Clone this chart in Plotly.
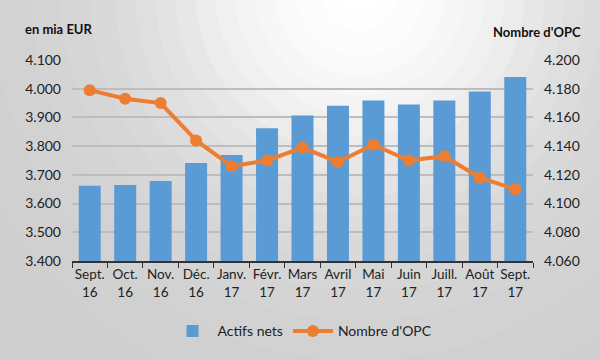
import plotly.graph_objects as go

categories = ["Sept.<br>16", "Oct.<br>16", "Nov.<br>16", "Déc.<br>16", "Janv.<br>17", "Févr.<br>17",
              "Mars<br>17", "Avril<br>17", "Mai<br>17", "Juin<br>17", "Juill.<br>17", "Août<br>17", "Sept.<br>17"]
actifs_nets = [3662, 3665, 3679, 3741, 3769, 3862, 3907, 3941, 3959, 3945, 3959, 3990, 4041]
nombre_opc = [4179, 4173, 4170, 4144, 4126, 4130, 4139, 4129, 4141, 4130, 4133, 4118, 4110]

left_ticks = [3400, 3500, 3600, 3700, 3800, 3900, 4000, 4100]
right_ticks = [4060, 4080, 4100, 4120, 4140, 4160, 4180, 4200]

FONT = "Lato, 'Open Sans', sans-serif"

# background radial gradient (decoration): (radius px, gray level)
grad_steps = [(640, 205), (560, 206), (480, 207), (420, 208), (370, 210), (330, 212), (300, 214),
              (270, 217), (245, 220), (225, 223), (205, 227), (185, 231), (165, 236), (145, 240),
              (125, 244), (105, 247), (85, 250), (65, 252), (40, 254), (20, 255)]
shapes = []
for r, g in grad_steps:
    shapes.append(dict(type="circle", layer="below", xref="paper", yref="paper",
                       xsizemode="pixel", ysizemode="pixel", xanchor=0.6247, yanchor=1.345,
                       x0=-r, x1=r, y0=-r, y1=r,
                       fillcolor=f"rgb({g},{g},{g})", line=dict(width=0)))

fig = go.Figure()
fig.add_trace(go.Bar(x=categories, y=actifs_nets, name="Actifs nets",
                     marker=dict(color="#5B9BD5", line=dict(width=0)), yaxis="y"))
fig.add_trace(go.Scatter(x=categories, y=nombre_opc, name="Nombre d'OPC", yaxis="y2",
                         mode="lines+markers",
                         line=dict(color="#ED7D31", width=4),
                         marker=dict(color="#ED7D31", size=12)))

fig.update_layout(
    width=600, height=360,
    margin=dict(l=72, r=67, t=60, b=97),
    paper_bgcolor="rgb(205,205,205)",
    plot_bgcolor="rgba(0,0,0,0)",
    separators=",.",
    font=dict(family=FONT, size=14, color="#222222"),
    bargap=0.38,
    showlegend=True,
    shapes=shapes,
    legend=dict(orientation="h", x=0.5, xanchor="center", y=-0.35, yanchor="middle",
                font=dict(size=14, color="#222222"), bgcolor="rgba(0,0,0,0)",
                traceorder="normal", itemwidth=40),
    xaxis=dict(type="category", range=[-0.5, 12.5], tickson="boundaries", ticks="outside", ticklen=5,
               tickcolor="#333333", showline=True, linecolor="#333333", linewidth=2,
               showgrid=False, tickangle=0, automargin=False,
               tickfont=dict(size=13.5, color="#222222")),
    yaxis=dict(range=[3400, 4100], tickvals=left_ticks, tickformat=",.0f",
               showgrid=True, gridcolor="#bdbdbd", gridwidth=2, zeroline=False, automargin=False,
               showline=False, tickfont=dict(size=14, color="#222222"), ticklabelstandoff=10),
    yaxis2=dict(range=[4060, 4200], tickvals=right_ticks, tickformat=",.0f",
                overlaying="y", side="right", showgrid=False, zeroline=False, automargin=False,
                showline=False, tickfont=dict(size=14, color="#222222"), ticklabelstandoff=10),
    annotations=[
        dict(text="<b>en mia EUR</b>", xref="paper", yref="paper", x=-0.106, y=1.153,
             xanchor="left", yanchor="middle", showarrow=False, font=dict(size=13, color="#111111")),
        dict(text="<b>Nombre d'OPC</b>", xref="paper", yref="paper", x=1.108, y=1.138,
             xanchor="right", yanchor="middle", showarrow=False, font=dict(size=13, color="#111111")),
    ],
)

fig.write_html("out.html", config={"displayModeBar": False},
               post_script="document.body.style.margin='0px';")
